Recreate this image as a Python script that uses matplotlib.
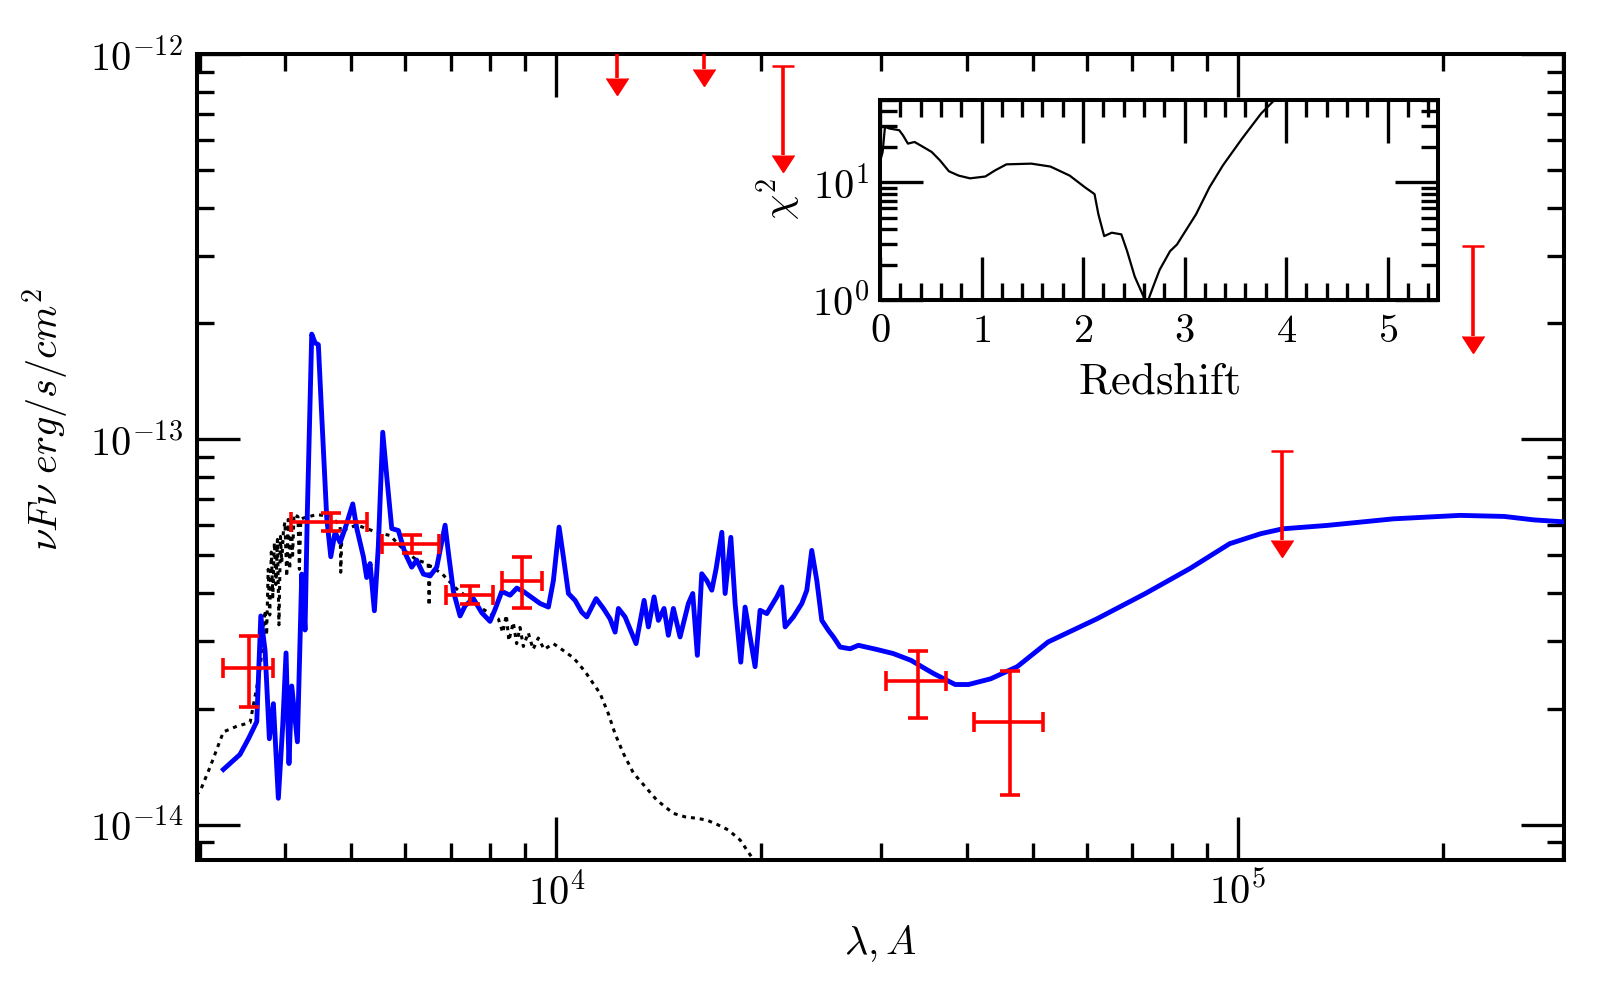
import numpy as np
import matplotlib
matplotlib.use("Agg")
import matplotlib.pyplot as plt
from matplotlib.lines import CARETDOWNBASE
from matplotlib.ticker import FuncFormatter, NullFormatter, FixedLocator, MultipleLocator

plt.rcParams['mathtext.fontset'] = 'cm'
plt.rcParams['font.family'] = 'serif'
plt.rcParams['font.serif'] = ['cmr10', 'DejaVu Serif']
plt.rcParams['axes.unicode_minus'] = False

# ---- best-fit model SED (wavelength in A, flux in 1e-14 erg/s/cm2)
model_wave = [3249, 3436, 3536, 3637, 3687, 3741, 3795, 3847, 3912, 3971, 4015, 4055,
              4093, 4172, 4234, 4281, 4315, 4379, 4429, 4478, 4530, 4607, 4670, 4738,
              4820, 4901, 5030, 5099, 5214, 5272, 5333, 5411, 5484, 5566, 5641, 5738,
              5868, 6001, 6138, 6243, 6385, 6531, 6680, 6871, 6949, 7067, 7228, 7352,
              7561, 7776, 7998, 8135, 8321, 8558, 8754, 8951, 9259, 9471, 9741, 9906,
              10099, 10247, 10423, 10659, 10902, 11088, 11443, 11730, 11998, 12202,
              12340, 12621, 13097, 13459, 13655, 13919, 14125, 14397, 14608, 14858,
              15197, 15630, 15862, 16111, 16351, 16634, 16917, 17166, 17500, 17695,
              18040, 18303, 18656, 18930, 19580, 19913, 20370, 21070, 21430, 21670,
              22280, 22930, 23320, 23710, 24120, 24530, 25090, 25510, 26090, 26990,
              27760, 29500, 31220, 33140, 35730, 38490, 40260, 43390, 47470, 52700,
              62110, 73180, 85050, 97270, 108000, 116400, 135200, 169200, 211700,
              245900, 272200, 305000]
model_flux = [1.39, 1.52, 1.67, 1.85, 3.48, 2.82, 1.67, 2.06, 1.17, 1.82, 2.79, 1.44,
              2.29, 1.64, 4.47, 3.20, 6.52, 18.77, 17.81, 17.62, 11.47, 6.25, 4.96, 5.74,
              5.40, 5.87, 6.80, 5.87, 4.96, 4.38, 4.76, 3.59, 5.29, 10.44, 8.04, 5.87,
              5.80, 5.07, 4.66, 4.86, 4.47, 4.42, 4.66, 5.99, 5.07, 4.03, 3.48, 3.70,
              3.86, 3.55, 3.37, 3.62, 4.03, 3.94, 4.11, 4.03, 3.86, 3.75, 3.67, 4.30,
              5.92, 4.95, 3.98, 3.82, 3.56, 3.46, 3.86, 3.64, 3.42, 3.16,
              3.64, 3.46, 2.95, 3.82, 3.26, 3.90, 3.39, 3.64, 3.10, 3.64,
              3.07, 3.75, 3.98, 2.75, 4.48, 4.30, 4.06, 4.62, 5.74, 3.98,
              5.57, 3.75, 2.64, 3.67, 2.57, 3.60, 3.53, 3.90, 4.14, 3.26,
              3.46, 3.75, 4.06, 5.15, 4.30, 3.39, 3.19, 3.07, 2.89, 2.86,
              2.92, 2.85, 2.78, 2.67, 2.47, 2.31, 2.31, 2.39, 2.57, 2.98,
              3.42, 3.98, 4.62, 5.36, 5.69, 5.86, 5.98, 6.22, 6.35,
              6.31, 6.18, 6.10]

# ---- stellar component (dotted)
star_wave = [2900, 3003, 3106, 3249, 3400, 3556, 3680, 3720, 3741, 3760, 3780, 3800,
             3820, 3840, 3860, 3880, 3900, 3920, 3940, 3957, 3980, 4000, 4024, 4045,
             4065, 4085, 4105, 4125, 4180, 4200, 4220, 4257, 4454, 4660, 4820, 4830,
             4850, 5099, 5272, 5448, 5706, 5969, 6243, 6490, 6510, 6530, 6809, 7122,
             7449, 7820, 8226, 8350, 8450, 8523, 8650, 8750, 8850, 8951, 9100, 9250,
             9414, 9600, 9906, 10247, 10598, 10840, 11088, 11340, 11599, 11927, 12202,
             12548, 12982, 13425, 14050, 14858, 15460, 16080, 16634, 17297, 17892,
             18620, 19260, 20000]
star_flux = [1.15, 1.22, 1.41, 1.74, 1.80, 1.84, 2.54, 3.2, 3.6, 3.1, 4.6, 3.5,
             5.1, 3.9, 5.4, 4.2, 5.5, 3.3, 5.6, 4.8, 5.8, 6.1, 4.4, 6.2,
             4.6, 6.3, 5.0, 6.4, 6.3, 4.6, 6.2, 6.25, 6.38, 6.32, 5.99, 4.52,
             5.8, 5.99, 5.87, 5.74, 5.63, 5.18, 4.86, 4.76, 3.70, 4.7, 4.47, 4.11,
             3.86, 3.62, 3.42, 3.15, 3.5, 3.0, 3.35, 2.95, 3.25, 2.9, 3.15, 2.85,
             3.05, 2.85, 2.95, 2.83, 2.71, 2.59, 2.46, 2.32, 2.19, 1.94, 1.72,
             1.53, 1.36, 1.27, 1.157, 1.069, 1.047, 1.038, 1.027, 0.997, 0.968,
             0.911, 0.834, 0.76]

# ---- photometry (ugriz + WISE W1/W2)
phot_wave = [3540, 4677, 6150, 7480, 8920, 33900, 46400]
phot_wave_err = [300, 596, 590, 590, 600, 3400, 5400]
phot_flux = [2.55e-14, 6.10e-14, 5.36e-14, 3.95e-14, 4.30e-14, 2.36e-14, 1.85e-14]
phot_flux_err = [0.53e-14, 0.33e-14, 0.28e-14, 0.21e-14, 0.66e-14, 0.47e-14, 0.66e-14]

# ---- upper limits (J, H, K, W3, W4)
lim_wave = [12300, 16500, 21500, 116000, 221000]
lim_flux = [1.48e-12, 1.57e-12, 9.35e-13, 9.35e-14, 3.18e-13]
lim_frac = 0.585   # bottom of the arrow relative to the limit

# ---- inset: chi2 vs redshift
z_grid = [0.0075, 0.026, 0.049, 0.094, 0.189, 0.226, 0.275, 0.34, 0.415, 0.509,
          0.592, 0.679, 0.774, 0.887, 1.038, 1.132, 1.245, 1.491, 1.679, 1.868,
          2.019, 2.113, 2.151, 2.208, 2.283, 2.377, 2.434, 2.509, 2.604, 2.642,
          2.698, 2.755, 2.857, 2.925, 3.019, 3.113, 3.245, 3.377, 3.566, 3.755,
          3.887, 4.0]
chi2 = [15.8, 18.1, 29.6, 28.6, 27.7, 25.1, 21.3, 22.0, 20.2, 18.1,
        15.3, 12.4, 11.4, 10.8, 11.2, 12.6, 14.2, 14.4, 13.6, 11.4,
        9.06, 7.94, 5.35, 3.49, 3.73, 3.61, 2.60, 1.58, 1.03, 1.00,
        1.35, 1.81, 2.60, 2.96, 3.98, 5.35, 9.06, 13.9, 23.5, 38.5,
        50.1, 65.0]

FS = 29
SPINE = 2.9


def style_axes(ax):
    for s in ax.spines.values():
        s.set_linewidth(SPINE)
    ax.tick_params(which='both', direction='in', top=True, right=True,
                   labelsize=FS)
    ax.tick_params(which='major', length=31, width=2.4)
    ax.tick_params(which='minor', length=12.5, width=2.4)


def pow10(v, pos):
    return r'$10^{%d}$' % int(round(np.log10(v)))


fig = plt.figure(figsize=(16, 10), dpi=100)
ax = fig.add_axes([0.123, 0.140, 0.8545, 0.8057])

ax.plot(np.array(model_wave), np.array(model_flux) * 1e-14, color='b', lw=3.5, zorder=3)
ax.plot(np.array(star_wave), np.array(star_flux) * 1e-14, color='k', lw=2.2,
        linestyle=(0, (1.3, 1.6)), zorder=2)

ax.errorbar(phot_wave, phot_flux, xerr=phot_wave_err, yerr=phot_flux_err,
            fmt='none', ecolor='r', elinewidth=2.6, capsize=7.5, capthick=2.6,
            zorder=4)

# upper limits: bar from the limit down, flat cap on top, arrowhead at the bottom
lim_flux = np.array(lim_flux)
lim_low = lim_flux * lim_frac
ax.vlines(lim_wave, lim_low, lim_flux, color='r', lw=2.6, zorder=4)
ax.plot(lim_wave, lim_flux, ls='none', marker='_', ms=16, mew=1.8, color='r', zorder=4)
ax.plot(lim_wave, lim_low, ls='none', marker=CARETDOWNBASE, ms=16, color='r',
        mec='r', zorder=4)

ax.set_xscale('log')
ax.set_yscale('log')
ax.set_xlim(2970, 3.01e5)
ax.set_ylim(8.09e-15, 1.0e-12)
style_axes(ax)
ax.tick_params(axis='x', which='major', pad=9)
ax.tick_params(axis='y', which='major', pad=10)
ax.xaxis.set_major_locator(FixedLocator([1e4, 1e5]))
ax.yaxis.set_major_locator(FixedLocator([1e-14, 1e-13, 1e-12]))
ax.xaxis.set_major_formatter(FuncFormatter(pow10))
ax.yaxis.set_major_formatter(FuncFormatter(pow10))
ax.xaxis.set_minor_formatter(NullFormatter())
ax.yaxis.set_minor_formatter(NullFormatter())
ax.set_xlabel(r'$\lambda, A$', fontsize=FS)
ax.set_ylabel(r'$\nu F\nu\ erg/s/cm^2$', fontsize=FS)
ax.xaxis.set_label_coords(0.5, -0.078)
ax.yaxis.set_label_coords(-0.092, 0.547)

# ---- inset
ins = fig.add_axes([0.55, 0.70, 0.349, 0.20])
ins.plot(z_grid, chi2, color='k', lw=1.6)
ins.set_yscale('log')
ins.set_xlim(0, 5.5)
ins.set_ylim(1, 50)
style_axes(ins)
ins.xaxis.set_major_locator(MultipleLocator(1))
ins.xaxis.set_minor_locator(MultipleLocator(0.2))
ins.yaxis.set_major_locator(FixedLocator([1, 10]))
ins.xaxis.set_major_formatter(FuncFormatter(lambda v, p: r'$%d$' % int(round(v))))
ins.yaxis.set_major_formatter(FuncFormatter(pow10))
ins.yaxis.set_minor_formatter(NullFormatter())
ins.tick_params(axis='x', which='major', pad=10)
ins.tick_params(axis='y', which='major', pad=8)
ins.set_xlabel(r'$\mathrm{Redshift}$', fontsize=32)
ins.set_ylabel(r'$\chi^2$', fontsize=FS)
ins.xaxis.set_label_coords(0.5, -0.31)
ins.yaxis.set_label_coords(-0.138, 0.505)

fig.savefig('out.png', dpi=100)
